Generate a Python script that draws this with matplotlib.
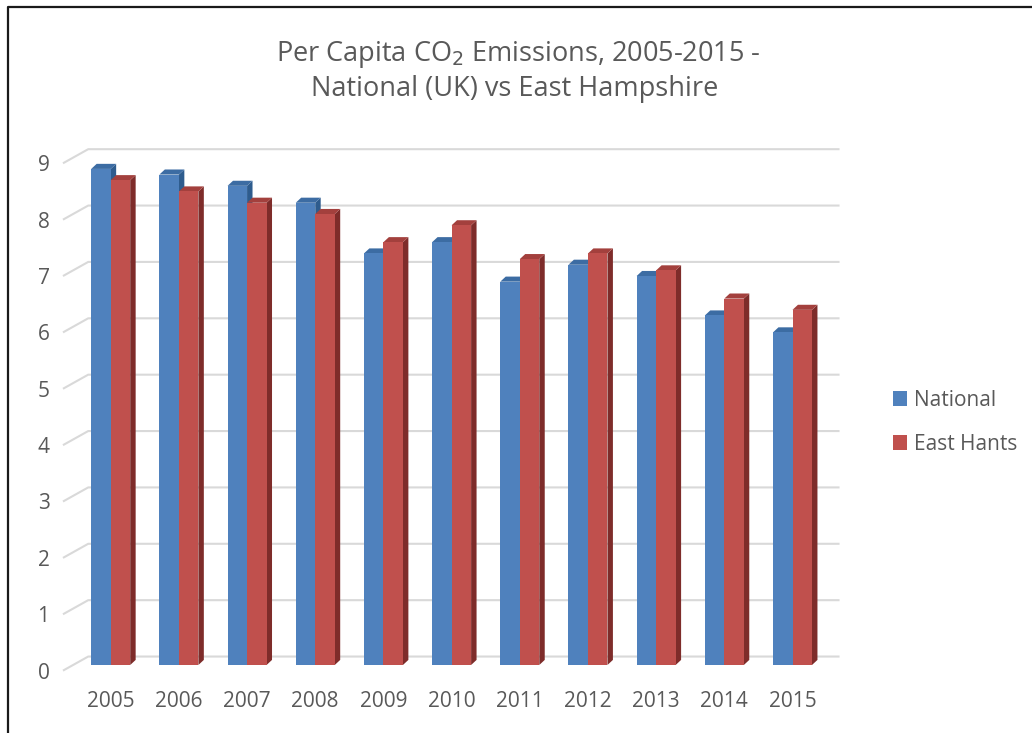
import matplotlib

matplotlib.use("Agg")
import matplotlib.pyplot as plt
from matplotlib.patches import Polygon
from matplotlib.transforms import ScaledTranslation
import numpy as np

# data
years = ["2005", "2006", "2007", "2008", "2009", "2010",
         "2011", "2012", "2013", "2014", "2015"]
national = [8.8, 8.7, 8.5, 8.2, 7.3, 7.5, 6.8, 7.1, 6.9, 6.2, 5.9]
east_hants = [8.6, 8.4, 8.2, 8.0, 7.5, 7.8, 7.2, 7.3, 7.0, 6.5, 6.3]
y_ticks = [0, 1, 2, 3, 4, 5, 6, 7, 8, 9]

TEXT = "#595959"
GRID = "#D9D9D9"
# front / side / top shades for the pseudo-3D columns
BLUE = ("#4F81BD", "#2E5C8E", "#3C6CA3")
RED = ("#C0504D", "#7E2C2A", "#A3403D")

W = 0.286        # width of one column front face (category units)
DX = 0.08        # depth of side face (category units)
DY = 0.09        # rise of top face (value units)
BACK = 0.15      # back wall offset (value units)
FRONT = -0.10    # front edge of the wall (value units)
WALL_X0, WALL_X1, GRID_X1 = -0.70, -0.33, 10.69

plt.rcParams["font.family"] = ["Open Sans", "DejaVu Sans"]

fig = plt.figure(figsize=(10.32, 7.33), dpi=100)
ax = fig.add_axes([0.0601, 0.0587, 0.7587, 0.757])
ax.set_xlim(-0.714, 10.77)
ax.set_ylim(-0.443, 9.40)
for s in ax.spines.values():
    s.set_visible(False)

# back-wall gridlines with slanted left edge
for v in y_ticks:
    ax.plot([WALL_X0, WALL_X1, GRID_X1], [v + FRONT, v + BACK, v + BACK],
            color=GRID, lw=1.5, zorder=0, solid_capstyle="butt")

x = np.arange(len(years))


def draw_columns(xs, vals, shades, label):
    front, side, top = shades
    ax.bar(xs, vals, width=W, align="edge", color=front, edgecolor="none",
           label=label, zorder=3)
    for xi, v in zip(xs, vals):
        ax.add_patch(Polygon([(xi + W, 0), (xi + W + DX, DY),
                              (xi + W + DX, v + DY), (xi + W, v)],
                             closed=True, facecolor=side, edgecolor="none",
                             zorder=2))
        ax.add_patch(Polygon([(xi, v), (xi + DX, v + DY),
                              (xi + W + DX, v + DY), (xi + W, v)],
                             closed=True, facecolor=top, edgecolor="none",
                             zorder=2))


draw_columns(x - W, national, BLUE, "National")
draw_columns(x, east_hants, RED, "East Hants")

ax.set_xticks(x)
ax.set_xticklabels(years)
ax.set_yticks(y_ticks)
ax.set_yticklabels([str(v) for v in y_ticks])
ax.tick_params(length=0, labelsize=15, labelcolor=TEXT)
ax.tick_params(axis="y", pad=9)
ax.tick_params(axis="x", pad=1)
shift = ScaledTranslation(0, -0.056, fig.dpi_scale_trans)
for lab in ax.get_yticklabels():
    lab.set_transform(lab.get_transform() + shift)

fig.text(0.502, 0.926, "Per Capita CO$_2$ Emissions, 2005-2015 -",
         ha="center", va="center", fontsize=19.5, color=TEXT)
fig.text(0.499, 0.879, "National (UK) vs East Hampshire",
         ha="center", va="center", fontsize=19.5, color=TEXT)

fig.legend(loc="center left", bbox_to_anchor=(0.865, 0.424), frameon=False,
           fontsize=15, labelcolor=TEXT, handlelength=0.68, handleheight=0.68,
           handletextpad=0.35, labelspacing=1.1, borderpad=0, borderaxespad=0)

# frame line of the original screenshot (top and left)
fig.add_artist(plt.Line2D([8 / 1032, 8 / 1032, 1.0], [0.0, 1 - 7 / 733, 1 - 7 / 733],
                          transform=fig.transFigure, color="#1a1a1a", lw=1.6))

fig.savefig("out.png", dpi=100)
